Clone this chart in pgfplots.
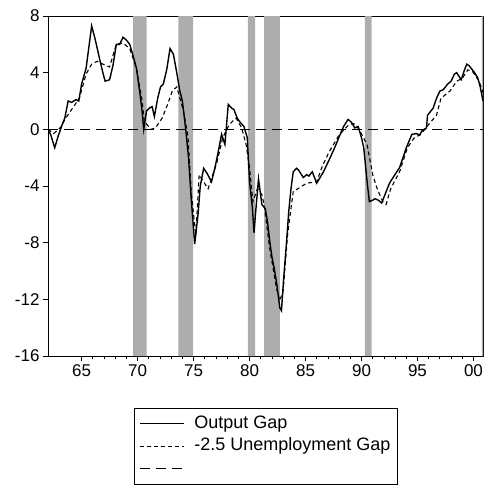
\documentclass[border=0pt]{standalone}
\usepackage{pgfplots}
\pgfplotsset{compat=1.18}
\usepackage{fontspec}
\setmainfont{Liberation Sans}
\pgfplotstableread{
x y
1962.0 0.0
1962.25 -0.4
1962.6 -1.3
1962.9 -0.5
1963.25 0.3
1963.5 0.8
1963.8 2.0
1964.1 1.9
1964.5 2.1
1964.75 2.0
1965.0 3.2
1965.4 4.3
1965.6 5.5
1965.9 7.3
1966.2 6.4
1966.6 5.0
1966.9 4.0
1967.1 3.4
1967.5 3.5
1967.8 4.5
1968.1 6.0
1968.4 6.0
1968.7 6.5
1969.0 6.3
1969.3 6.0
1969.6 5.2
1969.9 4.3
1970.2 2.6
1970.4 1.3
1970.55 0.0
1970.8 1.3
1971.05 1.5
1971.3 1.6
1971.5 0.9
1971.8 2.2
1972.05 3.0
1972.3 3.2
1972.6 4.2
1972.9 5.7
1973.2 5.3
1973.5 4.0
1973.75 2.8
1974.0 2.0
1974.3 0.0
1974.55 -2.0
1974.8 -5.0
1975.1 -8.1
1975.4 -6.0
1975.6 -4.0
1975.9 -2.75
1976.2 -3.1
1976.6 -3.7
1976.9 -2.75
1977.2 -1.6
1977.5 -0.35
1977.8 -1.06
1978.1 1.76
1978.4 1.5
1978.6 1.4
1978.9 0.8
1979.1 0.56
1979.5 0.2
1979.8 -0.6
1980.0 -3.7
1980.25 -5.5
1980.4 -7.3
1980.55 -5.8
1980.8 -3.5
1981.1 -5.3
1981.4 -5.6
1981.6 -6.5
1981.8 -7.9
1982.0 -9.0
1982.2 -9.8
1982.45 -11.0
1982.7 -12.6
1982.85 -12.8
1983.05 -10.5
1983.3 -8.0
1983.5 -5.8
1983.7 -4.2
1983.9 -3.0
1984.2 -2.75
1984.4 -2.9
1984.8 -3.4
1985.1 -3.2
1985.3 -3.3
1985.6 -3.0
1986.0 -3.8
1986.3 -3.4
1986.6 -3.0
1986.9 -2.5
1987.2 -2.0
1987.6 -1.3
1988.1 -0.35
1988.4 0.2
1988.8 0.7
1989.1 0.5
1989.4 0.1
1989.7 0.2
1990.0 -0.6
1990.2 -1.3
1990.5 -3.7
1990.7 -5.1
1991.0 -5.0
1991.2 -4.9
1991.5 -5.0
1991.8 -5.2
1992.1 -4.6
1992.3 -4.2
1992.5 -3.8
1992.9 -3.3
1993.4 -2.7
1993.7 -2.0
1994.0 -1.3
1994.5 -0.35
1994.9 -0.3
1995.2 -0.4
1995.4 -0.1
1995.8 0.1
1995.9 1.0
1996.2 1.3
1996.4 1.5
1996.7 2.2
1997.0 2.7
1997.3 2.8
1997.7 3.2
1998.0 3.4
1998.3 3.9
1998.5 4.0
1998.9 3.5
1999.2 4.2
1999.4 4.6
1999.6 4.5
1999.8 4.3
2000.1 4.0
2000.4 3.6
2000.6 3.0
2000.85 2.0
}\outputgap
\pgfplotstableread{
x y
1962.0 0.0
1962.5 -0.3
1962.8 -0.1
1963.2 0.2
1963.5 0.7
1964.2 1.5
1964.8 2.2
1965.4 3.9
1965.9 4.6
1966.4 4.8
1966.9 4.6
1967.5 4.4
1968.1 6.0
1968.7 6.1
1969.3 5.7
1969.9 4.3
1970.4 2.0
1970.6 0.56
1971.2 0.0
1971.6 0.1
1972.2 0.8
1972.7 1.8
1973.1 2.7
1973.5 3.0
1974.1 1.3
1974.5 -0.5
1974.8 -4.5
1975.2 -7.5
1975.5 -3.2
1976.3 -4.2
1977.1 -2.3
1977.6 -0.6
1978.2 0.35
1978.8 0.8
1979.3 0.1
1979.7 -1.1
1980.0 -2.7
1980.3 -5.1
1980.7 -4.2
1981.1 -4.6
1981.3 -5.3
1981.8 -8.4
1982.4 -11.2
1982.7 -12.1
1983.0 -11.4
1983.4 -7.4
1983.9 -4.4
1984.3 -4.2
1985.1 -3.8
1986.0 -3.7
1986.5 -2.6
1987.1 -1.6
1988.0 -0.4
1988.9 0.35
1989.3 0.4
1989.8 0.0
1990.5 -1.1
1991.0 -3.2
1991.4 -4.2
1991.9 -5.1
1992.2 -5.3
1992.6 -4.2
1993.4 -3.0
1994.1 -1.3
1994.7 -0.6
1995.3 -0.35
1996.0 0.35
1996.7 1.0
1997.1 2.2
1997.9 2.7
1998.5 3.4
1999.0 3.6
1999.5 4.2
1999.9 4.1
2000.5 3.4
2000.85 2.6
}\unempgap
\begin{document}
\begin{tikzpicture}
\useasboundingbox (0,0) rectangle (484pt,488pt);
\begin{axis}[
  at={(48pt,132pt)}, anchor=south west,
  width=435pt, height=340pt, scale only axis,
  xmin=1962, xmax=2000.85, ymin=-16, ymax=8,
  xtick={1965,1970,...,2000},
  xticklabels={65,70,75,80,85,90,95,00},
  minor x tick num=4,
  ytick={-16,-12,...,8},
  yticklabels={-16,-12,-8,-4,0,4,8},
  tick align=outside, xtick pos=lower, ytick pos=left,
  major tick length=5pt, minor tick length=3pt,
  every tick/.style={black, line width=0.8pt},
  tick label style={font=\fontsize{17}{19}\selectfont},
  axis line style={line width=1pt},
  legend style={at={(axis description cs:0.198,-0.153)}, anchor=north west,
    draw=black, line width=0.6pt, font=\fontsize{18}{20}\selectfont,
    inner xsep=5pt, inner ysep=5pt, row sep=1.5pt, column sep=8pt,
    nodes={inner sep=2pt, text height=13pt, text depth=4pt}},
  legend cell align=left,
  legend image code/.code={\draw[#1, line width=0.9pt] (0pt,0pt) -- (44pt,0pt);},
]
\addplot[fill=black!32, draw=none, forget plot] coordinates {(1969.6,-16) (1969.6,8) (1970.8,8) (1970.8,-16) (1969.6,-16)};
\addplot[fill=black!32, draw=none, forget plot] coordinates {(1973.65,-16) (1973.65,8) (1974.95,8) (1974.95,-16) (1973.65,-16)};
\addplot[fill=black!32, draw=none, forget plot] coordinates {(1979.85,-16) (1979.85,8) (1980.5,8) (1980.5,-16) (1979.85,-16)};
\addplot[fill=black!32, draw=none, forget plot] coordinates {(1981.3,-16) (1981.3,8) (1982.7,8) (1982.7,-16) (1981.3,-16)};
\addplot[fill=black!32, draw=none, forget plot] coordinates {(1990.3,-16) (1990.3,8) (1990.9,8) (1990.9,-16) (1990.3,-16)};
\addplot[fill=black!32, draw=none, forget plot] coordinates {(2000.75,-16) (2000.75,8) (2000.85,8) (2000.85,-16) (2000.75,-16)};
\addplot[black, line width=1.4pt] table {\outputgap};
\addlegendentry{Output Gap}
\addplot[black, line width=1.1pt, dash pattern=on 4pt off 3pt] table {\unempgap};
\addlegendentry{-2.5 Unemployment Gap}
\addplot[black, line width=1.1pt, dash pattern=on 10pt off 6pt] coordinates {(1962,0) (2000.85,0)};
\addlegendentry{}
\end{axis}
\end{tikzpicture}
\end{document}
